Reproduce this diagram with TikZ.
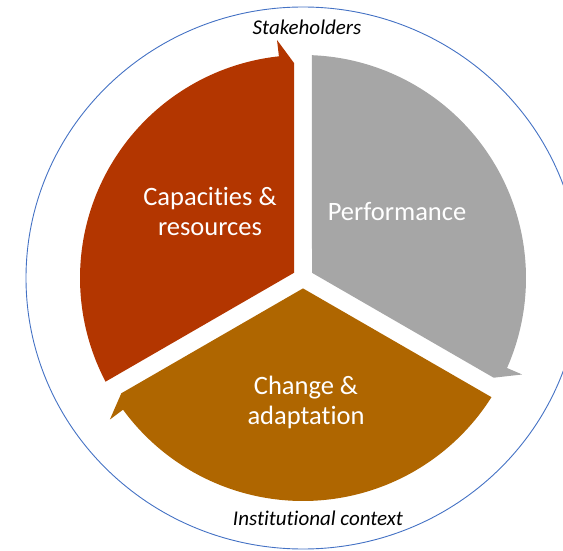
\documentclass[tikz,border=0pt]{standalone}
\usepackage{fontspec}
\setmainfont{Carlito}[Ligatures=NoCommon]
\definecolor{segred}{RGB}{179,54,0}
\definecolor{seggray}{RGB}{166,166,166}
\definecolor{segorange}{RGB}{175,102,0}
\definecolor{ringblue}{RGB}{68,114,196}
\begin{document}
\begin{tikzpicture}[x=1pt,y=1pt,
  seglabel/.style={text=white,font=\fontsize{26.5}{30}\selectfont,align=center,inner sep=0pt},
  ringlabel/.style={text=black,font=\fontsize{21}{25}\selectfont\itshape,inner sep=0pt,anchor=base},
  ring/.style={draw=ringblue,line width=0.9pt}]
\useasboundingbox (0,0) rectangle (563,550);
\coordinate (C) at (303,272);
\draw[ring] (C) ellipse [x radius=277, y radius=271];
\def\segpath{(-9,5.2) -- (-9,215) -- (-26,238) -- (96.2:223) arc[start angle=96.2, end angle=207.7, radius=223] -- cycle}
\begin{scope}[shift={(C)}]
  \fill[segred] \segpath;
  \fill[seggray, rotate=-120] \segpath;
  \fill[segorange, rotate=120] \segpath;
\end{scope}
\node[seglabel] (cap) at (210,339) {Capacities \&\\resources};
\node[seglabel,anchor=base] (perf) at (397,329) {Performance};
\node[seglabel] (chg) at (306,148) {Change \&\\adaptation};
\node[ringlabel] (stake) at (307,515) {Stakeholders};
\node[ringlabel] (inst) at (318,25) {Institutional context};
\end{tikzpicture}
\end{document}
